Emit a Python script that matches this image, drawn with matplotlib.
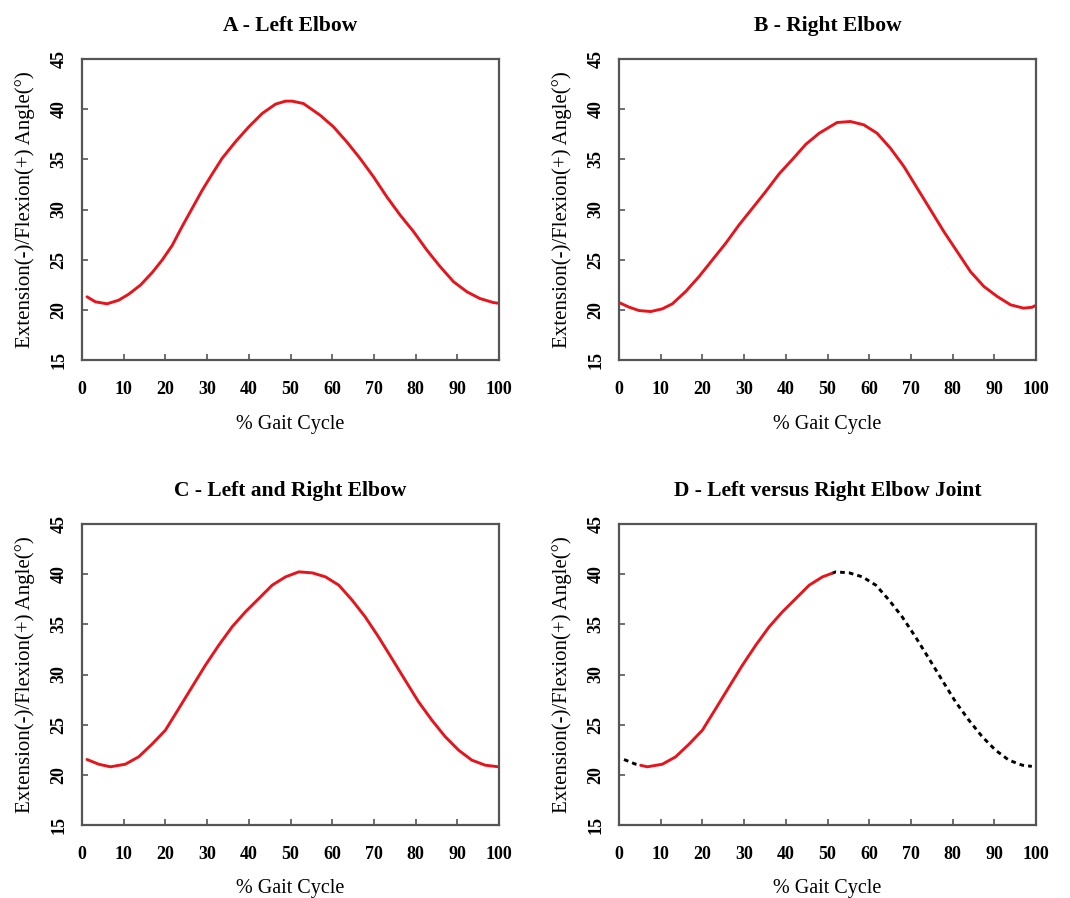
import matplotlib
matplotlib.use("Agg")
import matplotlib.pyplot as plt
import numpy as np

plt.rcParams['font.family'] = ['Liberation Serif', 'DejaVu Serif']

# Elbow flexion/extension angle (deg) over the gait cycle (%)
left_x = [1.2, 3.2, 6.0, 8.8, 11.2, 14.0, 16.8, 19.2, 21.6, 24.0, 26.4, 28.8, 30.8, 33.6,
          36.8, 40.0, 43.2, 46.4, 48.8, 50.4, 53.1, 57.1, 60.3, 63.5, 66.7, 69.9, 73.1,
          76.3, 79.5, 82.7, 85.9, 89.1, 92.3, 95.4, 98.6, 100]
left_y = [21.3, 20.8, 20.6, 20.96, 21.56, 22.46, 23.7, 24.95, 26.4, 28.3, 30.1, 31.9, 33.26,
          35.1, 36.75, 38.24, 39.57, 40.5, 40.8, 40.8, 40.56, 39.4, 38.24, 36.74, 35.08,
          33.26, 31.26, 29.44, 27.8, 25.95, 24.3, 22.8, 21.8, 21.13, 20.73, 20.65]

right_x = [0, 2.4, 4.8, 7.6, 10.4, 12.8, 16.0, 19.2, 22.4, 25.6, 28.8, 32.0, 35.2, 38.4,
           41.6, 44.8, 48.0, 50.4, 52.3, 55.5, 58.7, 61.9, 65.1, 68.3, 71.5, 74.7, 77.9,
           81.1, 84.3, 87.5, 90.7, 93.9, 97.0, 99.0, 100]
right_y = [20.73, 20.27, 19.93, 19.83, 20.1, 20.6, 21.83, 23.32, 24.98, 26.64, 28.47, 30.13,
           31.8, 33.55, 35.0, 36.5, 37.6, 38.2, 38.67, 38.77, 38.44, 37.6, 36.1, 34.3, 32.13,
           29.97, 27.8, 25.8, 23.8, 22.33, 21.33, 20.5, 20.17, 20.25, 20.45]

mean_x = [1.2, 4.0, 6.8, 10.4, 13.6, 16.8, 20.0, 23.2, 26.4, 29.6, 32.8, 36.0, 39.2, 42.4,
          45.6, 48.8, 52.0, 55.2, 58.4, 61.6, 64.8, 67.9, 71.1, 74.3, 77.5, 80.7, 83.9,
          87.1, 90.3, 93.5, 96.7, 99.9]
mean_y = [21.53, 21.06, 20.8, 21.06, 21.8, 23.06, 24.45, 26.6, 28.77, 30.93, 32.92, 34.75,
          36.25, 37.57, 38.9, 39.73, 40.23, 40.13, 39.73, 38.9, 37.4, 35.75, 33.75, 31.6,
          29.43, 27.28, 25.45, 23.8, 22.46, 21.46, 20.96, 20.8]

# Part of the gait cycle drawn as a solid line in panel D
solid_range = (5.2, 51.0)
dashed_end = 99.0

titles = ["A - Left Elbow", "B - Right Elbow", "C - Left and Right Elbow",
          "D - Left versus Right Elbow Joint"]
x_ticks = [0, 10, 20, 30, 40, 50, 60, 70, 80, 90, 100]
y_ticks = [15, 20, 25, 30, 35, 40, 45]
x_label = "% Gait Cycle"
y_label = "Extension(-)/Flexion(+) Angle(°)"

RED = "#e8141c"
LW = 2.1
W, H = 1070, 898
fig = plt.figure(figsize=(W / 100, H / 100), dpi=100)

# axes boxes in pixels: left, top, right, bottom
boxes = [(82, 59, 499, 360), (619, 59, 1036, 360),
         (82, 524, 499, 825), (619, 524, 1036, 825)]
axes = []
for (l, t, r, b) in boxes:
    ax = fig.add_axes([l / W, 1 - b / H, (r - l) / W, (b - t) / H])
    axes.append(ax)


def style(ax, title):
    ax.set_xlim(0, 100)
    ax.set_ylim(15, 45)
    ax.set_xticks(x_ticks)
    ax.set_yticks(y_ticks)
    ax.set_xticklabels([str(v) for v in x_ticks], fontsize=13, fontweight='bold')
    ax.set_yticklabels([str(v) for v in y_ticks], fontsize=13, fontweight='bold',
                       rotation=90, va='center')
    ax.tick_params(axis='x', direction='in', length=4, width=1.2, color='#555555', pad=15)
    ax.tick_params(axis='y', direction='in', length=4, width=1.2, color='#555555', pad=10.5)
    for s in ax.spines.values():
        s.set_color('#555555')
        s.set_linewidth(1.6)
    ax.set_xlabel(x_label, fontsize=14.5, labelpad=12)
    ax.set_ylabel(y_label, fontsize=15, labelpad=11)
    ax.set_title(title, fontsize=15.5, fontweight='bold', pad=20)


def curve(ax, x, y, **kw):
    ax.plot(x, y, lw=LW, solid_joinstyle='round', solid_capstyle='round', **kw)


curve(axes[0], left_x, left_y, color=RED)
curve(axes[1], right_x, right_y, color=RED)
curve(axes[2], mean_x, mean_y, color=RED)

# Panel D: same mean curve, solid over the first half, dashed elsewhere
mx = np.array(mean_x)
my = np.array(mean_y)
lo, hi = solid_range
y_lo = np.interp(lo, mx, my)
y_hi = np.interp(hi, mx, my)
y_end = np.interp(dashed_end, mx, my)
seg = (mx > lo) & (mx < hi)
sx = np.concatenate([[lo], mx[seg], [hi]])
sy = np.concatenate([[y_lo], my[seg], [y_hi]])
bx = np.concatenate([mx[mx < lo], [lo]])
by = np.concatenate([my[mx < lo], [y_lo]])
keep = (mx > hi) & (mx < dashed_end)
ex = np.concatenate([[hi], mx[keep], [dashed_end]])
ey = np.concatenate([[y_hi], my[keep], [y_end]])
dash = (0, (1.6, 1.4))
axes[3].plot(bx, by, color='black', lw=LW, ls=dash)
axes[3].plot(ex, ey, color='black', lw=LW, ls=dash)
curve(axes[3], sx, sy, color=RED)

for ax, t in zip(axes, titles):
    style(ax, t)

fig.savefig("out.png", dpi=100)
